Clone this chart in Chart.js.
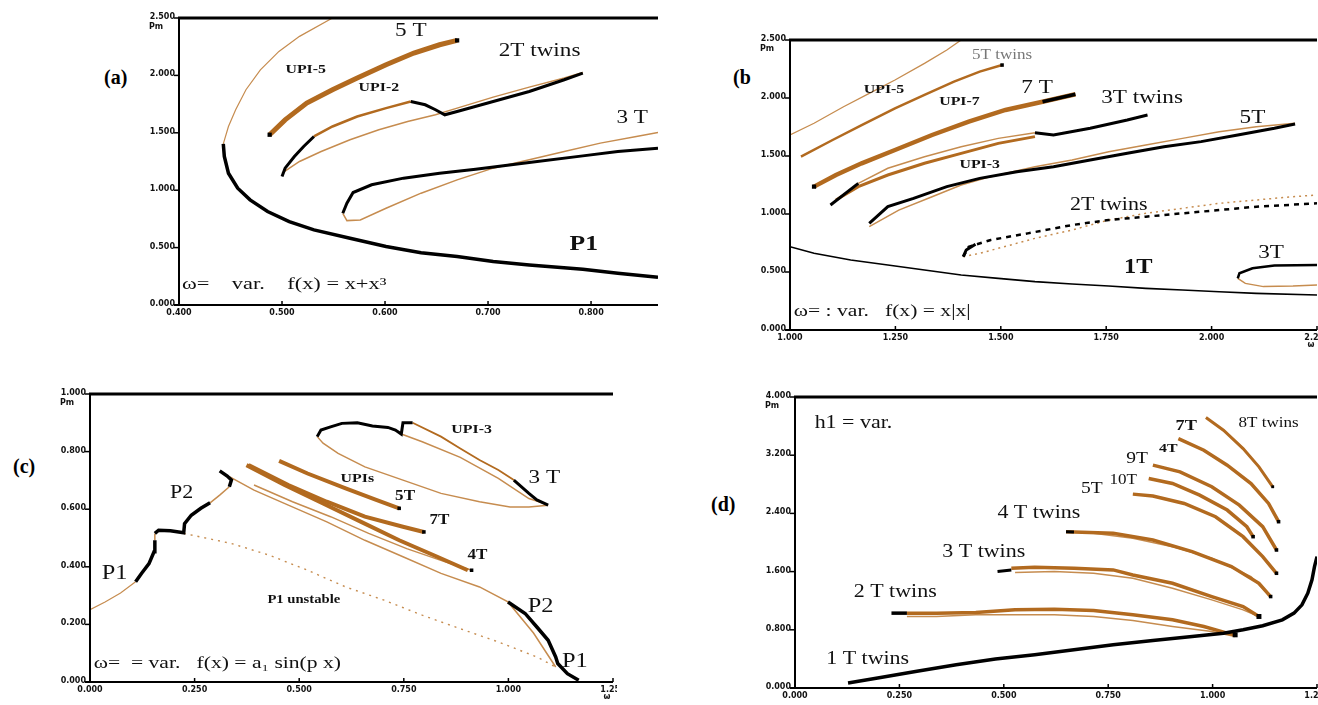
<!DOCTYPE html>
<html>
<head>
<meta charset="utf-8">
<script src="https://cdn.jsdelivr.net/npm/chart.js@4/dist/chart.umd.min.js"></script>
<style>
body { margin: 0; background: #fff; width: 1318px; height: 705px; overflow: hidden; position: relative; }
canvas { position: absolute; }
.tag { position: absolute; font: bold 20px "Liberation Serif", serif; color: #000; }
</style>
</head>
<body>
<div class="tag" style="left:104px;top:66px">(a)</div>
<div class="tag" style="left:733px;top:66px">(b</div>
<div class="tag" style="left:13px;top:455px">(c)</div>
<div class="tag" style="left:711px;top:493px">(d)</div>
<canvas id="chartA"></canvas>
<canvas id="chartB"></canvas>
<canvas id="chartC"></canvas>
<canvas id="chartD"></canvas>
<script>
// ---- (a) f(x) = x + x^3 ----
const aXTicks = [0.4, 0.5, 0.6, 0.7, 0.8];
const aYTicks = [0, 0.5, 1, 1.5, 2, 2.5];
const aP1Upper = [[0.443,1.404],[0.448,1.555],[0.455,1.701],[0.465,1.875],[0.479,2.049],[0.497,2.209],[0.517,2.340],[0.549,2.500]];
const aP1 = [[0.443,1.404],[0.444,1.294],[0.448,1.148],[0.457,1.017],[0.469,0.916],[0.486,0.814],[0.507,0.727],[0.531,0.654],[0.566,0.581],[0.601,0.509],[0.635,0.456],[0.670,0.422],[0.705,0.378],[0.740,0.349],[0.792,0.311],[0.826,0.276],[0.865,0.241]];
const a5T = [[0.488,1.483],[0.503,1.613],[0.524,1.759],[0.549,1.875],[0.573,1.977],[0.601,2.093],[0.628,2.195],[0.653,2.267],[0.670,2.305]];
const a2TArcBlack = [[0.500,1.119],[0.503,1.192],[0.512,1.294],[0.521,1.381],[0.531,1.468]];
const a2TArc = [[0.531,1.468],[0.549,1.555],[0.573,1.642],[0.601,1.715],[0.625,1.773]];
const a2TBlack = [[0.625,1.773],[0.639,1.744],[0.649,1.701],[0.658,1.657],[0.670,1.686],[0.705,1.773],[0.740,1.860],[0.774,1.962],[0.792,2.020]];
const a2TThin = [[0.500,1.148],[0.517,1.250],[0.538,1.337],[0.566,1.439],[0.594,1.526],[0.622,1.599],[0.649,1.657],[0.670,1.715],[0.705,1.811],[0.740,1.898],[0.774,1.977],[0.792,2.026]];
const a3TBlack = [[0.865,1.366],[0.826,1.337],[0.792,1.299],[0.740,1.241],[0.688,1.183],[0.653,1.148],[0.618,1.105],[0.587,1.047],[0.569,0.980],[0.563,0.887],[0.559,0.799]];
const a3TBrown = [[0.559,0.799],[0.563,0.735],[0.576,0.741],[0.601,0.843],[0.635,0.974],[0.670,1.090],[0.705,1.192],[0.740,1.265],[0.774,1.337],[0.809,1.410],[0.844,1.468],[0.865,1.503]];

// ---- (b) f(x) = x|x| ----
const bXTicks = [1.0, 1.25, 1.5, 1.75, 2.0, 2.25];
const bYTicks = [0, 0.5, 1, 1.5, 2, 2.5];
const bUpi5 = [[1.000,1.681],[1.057,1.782],[1.127,1.925],[1.188,2.040],[1.249,2.155],[1.319,2.299],[1.372,2.414],[1.406,2.500]];
const b5TTwins = [[1.026,1.494],[1.101,1.638],[1.170,1.767],[1.249,1.911],[1.319,2.026],[1.389,2.141],[1.450,2.227],[1.503,2.284]];
const b7T = [[1.057,1.236],[1.109,1.336],[1.170,1.437],[1.249,1.552],[1.337,1.681],[1.424,1.796],[1.511,1.897],[1.599,1.968],[1.677,2.032]];
const b7TBlack = [[1.599,1.968],[1.677,2.032]];
const b3TStart = [[1.096,1.078],[1.162,1.264]];
const b3TUpper = [[1.162,1.264],[1.232,1.394],[1.319,1.494],[1.406,1.580],[1.494,1.652],[1.581,1.701]];
const b3TEnd = [[1.581,1.701],[1.625,1.681],[1.712,1.739],[1.800,1.810],[1.848,1.853]];
const b3TLower = [[1.109,1.121],[1.162,1.236],[1.232,1.336],[1.319,1.437],[1.406,1.523],[1.494,1.609],[1.581,1.667]];
const bUpi3Black = [[1.188,0.920],[1.232,1.063],[1.293,1.135],[1.372,1.236],[1.450,1.307],[1.538,1.365],[1.625,1.408],[1.712,1.466],[1.800,1.523],[1.887,1.580],[1.975,1.624],[2.062,1.681],[2.149,1.739],[2.198,1.776]];
const bUpi3Brown = [[1.188,0.891],[1.258,1.034],[1.337,1.149],[1.406,1.250],[1.476,1.322],[1.581,1.408],[1.669,1.466],[1.756,1.537],[1.844,1.595],[1.931,1.652],[2.018,1.710],[2.106,1.753],[2.198,1.782]];
const b2TBlack = [[1.411,0.632],[1.424,0.718],[1.476,0.776],[1.564,0.833],[1.669,0.905],[1.756,0.948],[1.844,0.977],[1.931,1.006],[2.018,1.034],[2.106,1.063],[2.250,1.092]];
const b2TBrown = [[1.411,0.632],[1.450,0.661],[1.494,0.704],[1.581,0.790],[1.669,0.862],[1.756,0.948],[1.844,1.006],[1.931,1.049],[2.018,1.092],[2.106,1.121],[2.193,1.149],[2.250,1.164]];
const b2TTip = [[1.411,0.632],[1.418,0.690],[1.440,0.740]];
const b1T = [[1.000,0.718],[1.057,0.661],[1.144,0.603],[1.232,0.560],[1.319,0.517],[1.406,0.474],[1.494,0.445],[1.581,0.417],[1.669,0.397],[1.756,0.379],[1.844,0.359],[1.931,0.345],[2.018,0.330],[2.106,0.316],[2.250,0.302]];
const b3TLoopBlack = [[2.250,0.560],[2.149,0.555],[2.097,0.532],[2.066,0.489],[2.062,0.445]];
const b3TLoopBrown = [[2.062,0.445],[2.080,0.402],[2.123,0.374],[2.193,0.379],[2.250,0.388]];

// ---- (c) f(x) = a1 sin(p x) ----
const cXTicks = [0, 0.25, 0.5, 0.75, 1.0, 1.25];
const cYTicks = [0, 0.2, 0.4, 0.6, 0.8, 1.0];
const cRiseBrown1 = [[0.000,0.251],[0.036,0.278],[0.073,0.309],[0.109,0.348]];
const cRiseBlack1 = [[0.109,0.348],[0.123,0.377],[0.141,0.411],[0.153,0.452],[0.155,0.492]];
const cRiseBrown2 = [[0.155,0.492],[0.155,0.516]];
const cRiseBlack2 = [[0.155,0.516],[0.164,0.527],[0.192,0.525],[0.224,0.518],[0.226,0.550],[0.242,0.579],[0.265,0.603],[0.287,0.622]];
const cRiseBrown3 = [[0.287,0.622],[0.310,0.649],[0.333,0.678]];
const cRiseBlack3 = [[0.333,0.678],[0.338,0.701],[0.328,0.715],[0.310,0.733]];
const cP1Unstable = [[0.224,0.516],[0.338,0.481],[0.429,0.440],[0.520,0.388],[0.611,0.330],[0.703,0.284],[0.794,0.232],[0.885,0.185],[0.976,0.139],[1.068,0.087],[1.113,0.052]];
const cFallBrown = [[0.333,0.713],[0.392,0.666],[0.474,0.614],[0.566,0.556],[0.657,0.492],[0.748,0.435],[0.839,0.377],[0.931,0.330],[0.999,0.278],[1.060,0.170],[1.113,0.052]];
const cFallBlack = [[0.999,0.278],[1.040,0.238],[1.068,0.191],[1.095,0.145],[1.113,0.087],[1.118,0.064],[1.141,0.029],[1.168,0.006]];
const cUpi3Top = [[0.543,0.852],[0.552,0.875],[0.575,0.886],[0.602,0.898],[0.639,0.900],[0.675,0.889],[0.712,0.884],[0.730,0.875],[0.744,0.861],[0.748,0.900],[0.771,0.900]];
const cUpi3Right = [[0.771,0.900],[0.839,0.852],[0.885,0.811],[0.931,0.771],[0.976,0.736],[1.013,0.701]];
const cUpi3Tip = [[1.013,0.701],[1.049,0.655],[1.068,0.632],[1.095,0.614]];
const cUpi3Lower = [[1.095,0.614],[1.049,0.608],[1.004,0.608],[0.931,0.626],[0.839,0.655],[0.748,0.701],[0.657,0.747],[0.593,0.794],[0.557,0.829],[0.543,0.852]];
const cUpi3Inner = [[0.744,0.861],[0.794,0.834],[0.885,0.780],[0.976,0.707],[1.049,0.637],[1.086,0.620]];
const c5T = [[0.452,0.768],[0.520,0.724],[0.611,0.672],[0.684,0.632],[0.739,0.603]];
const c7T = [[0.379,0.753],[0.474,0.684],[0.566,0.626],[0.657,0.574],[0.748,0.539],[0.798,0.521]];
const c4T = [[0.374,0.753],[0.465,0.684],[0.557,0.620],[0.648,0.556],[0.739,0.492],[0.830,0.435],[0.903,0.388]];
const c4TThin = [[0.392,0.684],[0.484,0.626],[0.575,0.574],[0.666,0.516],[0.757,0.463],[0.849,0.417],[0.912,0.388]];

// ---- (d) h1 varied ----
const dXTicks = [0, 0.25, 0.5, 0.75, 1.0, 1.25];
const dYTicks = [0, 0.8, 1.6, 2.4, 3.2, 4.0];
const d1T = [[0.127,0.069],[0.198,0.137],[0.292,0.229],[0.386,0.320],[0.480,0.398],[0.574,0.457],[0.668,0.526],[0.762,0.594],[0.857,0.654],[0.951,0.709],[1.026,0.754],[1.073,0.800],[1.120,0.855],[1.167,0.937],[1.195,1.029],[1.214,1.143],[1.228,1.303],[1.238,1.486],[1.244,1.669],[1.250,1.806]];
const d2TStart = [[0.231,1.029],[0.268,1.029]];
const d2TUpper = [[0.268,1.029],[0.339,1.029],[0.433,1.038],[0.527,1.074],[0.621,1.083],[0.715,1.065],[0.809,1.006],[0.904,0.937],[0.979,0.846],[1.035,0.754],[1.054,0.731]];
const d2TLower = [[0.268,0.983],[0.339,0.983],[0.433,1.006],[0.527,1.006],[0.621,1.006],[0.715,0.983],[0.809,0.928],[0.904,0.846],[0.998,0.777],[1.054,0.709]];
const d3TStart = [[0.485,1.600],[0.518,1.623]];
const d3TUpper = [[0.518,1.646],[0.574,1.659],[0.668,1.646],[0.762,1.623],[0.809,1.554],[0.904,1.440],[0.998,1.257],[1.073,1.120],[1.111,0.983]];
const d3TLower = [[0.527,1.586],[0.621,1.600],[0.715,1.577],[0.809,1.509],[0.904,1.371],[0.998,1.211],[1.073,1.074],[1.111,0.983]];
const d4TStart = [[0.649,2.149],[0.668,2.145]];
const d4TUpper = [[0.649,2.149],[0.762,2.126],[0.857,2.034],[0.951,1.874],[1.045,1.669],[1.111,1.440],[1.139,1.257]];
const d4TLower = [[0.715,2.126],[0.809,2.057],[0.904,1.943],[0.998,1.783],[1.092,1.531],[1.139,1.257]];
const d5T = [[0.809,2.665],[0.857,2.638],[0.932,2.537],[1.007,2.354],[1.073,2.080],[1.120,1.806],[1.153,1.577]];
const d10T = [[0.847,2.880],[0.904,2.811],[0.969,2.651],[1.035,2.446],[1.082,2.217],[1.097,2.080]];
const d9T = [[0.857,3.063],[0.922,2.971],[0.998,2.766],[1.064,2.514],[1.120,2.217],[1.153,1.897]];
const d7T = [[0.918,3.429],[0.979,3.269],[1.035,3.063],[1.092,2.811],[1.134,2.537],[1.158,2.286]];
const d8T = [[0.984,3.717],[1.026,3.543],[1.073,3.291],[1.111,3.040],[1.144,2.766]];

const BLACK = '#000';
const BROWN = '#b26a1f';
const BROWN_LT = '#c68c4f';
const TEXT_STRETCH = 1.22;

function curve(pts, color, width, extra) {
  return Object.assign({
    data: pts.map(([x, y]) => ({ x, y })),
    borderColor: color, backgroundColor: color, borderWidth: width,
    showLine: true, pointRadius: 0, tension: 0, fill: false,
    order: color === BLACK ? 0 : 1
  }, extra || {});
}

// square black marker on the last point of a branch
function endDot(pts, r) {
  const [x, y] = pts[pts.length - 1];
  return { data: [{ x, y }], showLine: false, pointRadius: r || 2.5, pointStyle: 'rect',
    backgroundColor: BLACK, borderColor: BLACK, borderWidth: 0, order: 0 };
}
function startDot(pts, r) { return endDot([pts[0]], r); }

function line(ctx, x1, y1, x2, y2) {
  ctx.beginPath(); ctx.moveTo(x1, y1); ctx.lineTo(x2, y2); ctx.stroke();
}

const axisFrame = {
  id: 'axisFrame',
  afterDatasetsDraw(chart) {
    const { ctx, chartArea: a, scales: { x, y } } = chart;
    ctx.save();
    ctx.strokeStyle = '#000';
    ctx.lineWidth = 3;
    line(ctx, a.left - 1, a.top, a.right, a.top);
    ctx.lineWidth = 2;
    line(ctx, a.left, a.top, a.left, a.bottom);
    line(ctx, a.left - 5, a.bottom, a.right, a.bottom);
    ctx.fillStyle = '#111';
    ctx.font = 'bold 8px "DejaVu Sans", sans-serif';
    ctx.lineWidth = 1.5;
    x.ticks.forEach(t => {
      const px = x.getPixelForValue(t.value);
      line(ctx, px, a.bottom, px, a.bottom - 4);
      ctx.textAlign = 'center';
      ctx.textBaseline = 'top';
      ctx.fillText(t.value.toFixed(3), px, a.bottom + 4);
    });
    y.ticks.forEach(t => {
      const py = y.getPixelForValue(t.value);
      line(ctx, a.left - 5, py, a.left, py);
      ctx.textAlign = 'right';
      ctx.textBaseline = 'middle';
      ctx.fillText(t.value.toFixed(3), a.left - 4, py - 1);
    });
    ctx.textAlign = 'left';
    ctx.fillText('Pm', a.left - 30, a.top + 9);
    if (chart.options.plugins.axisFrame.omega) {
      ctx.textAlign = 'center';
      ctx.fillText('ω', x.getPixelForValue(x.max) - 6, a.bottom + 15);
    }
    ctx.restore();
  }
};

function notes(items) {
  return {
    id: 'notes',
    afterDraw(chart) {
      const { ctx, scales: { x, y } } = chart;
      items.forEach(n => {
        ctx.save();
        ctx.font = n.font + ' "Liberation Serif", serif';
        ctx.fillStyle = n.color || '#111';
        ctx.textAlign = n.align || 'center';
        ctx.textBaseline = 'middle';
        ctx.translate(x.getPixelForValue(n.x), y.getPixelForValue(n.y));
        ctx.scale(n.stretch || TEXT_STRETCH, 1);
        ctx.fillText(n.text, 0, 0);
        ctx.restore();
      });
    }
  };
}

const PAD_L = 44, PAD_T = 9, PAD_R = 4, PAD_B = 22;

function makeChart(id, frame, xTicks, yTicks, datasets, labels, omega) {
  const cv = document.getElementById(id);
  cv.width = frame.right - frame.left + PAD_L + PAD_R;
  cv.height = frame.bottom - frame.top + PAD_T + PAD_B;
  cv.style.left = (frame.left - PAD_L) + 'px';
  cv.style.top = (frame.top - PAD_T) + 'px';
  const axis = (ticks, min, max, fit) => ({
    type: 'linear', min, max,
    afterBuildTicks: s => { s.ticks = ticks.map(v => ({ value: v })); },
    afterFit: fit,
    ticks: { display: false },
    grid: { display: false },
    border: { display: false }
  });
  return new Chart(cv, {
    type: 'scatter',
    data: { datasets },
    options: {
      responsive: false, animation: false, devicePixelRatio: 1,
      layout: { padding: { left: 0, top: PAD_T, right: PAD_R, bottom: 0 } },
      plugins: { legend: { display: false }, tooltip: { enabled: false }, axisFrame: { omega: !!omega } },
      scales: {
        x: axis(xTicks, xTicks[0], frame.xMax, s => { s.height = PAD_B; }),
        y: axis(yTicks, yTicks[0], yTicks[yTicks.length - 1], s => { s.width = PAD_L; })
      }
    },
    plugins: [axisFrame, notes(labels)]
  });
}

makeChart('chartA', { left: 179, top: 18, right: 658, bottom: 305, xMax: 0.865 }, aXTicks, aYTicks, [
  curve(aP1Upper, BROWN_LT, 1.2),
  curve(aP1, BLACK, 3.5),
  curve(a5T, BROWN, 5),
  startDot(a5T, 3), endDot(a5T, 3),
  curve(a2TArcBlack, BLACK, 3),
  curve(a2TArc, BROWN, 2.5),
  curve(a2TBlack, BLACK, 3),
  curve(a2TThin, BROWN_LT, 1.5),
  curve(a3TBlack, BLACK, 3),
  curve(a3TBrown, BROWN_LT, 1.5)
], [
  { text: '5 T', x: 0.625, y: 2.385, font: '19px' },
  { text: '2T twins', x: 0.750, y: 2.209, font: '19px' },
  { text: 'UPI-5', x: 0.523, y: 2.049, font: 'bold 13px' },
  { text: 'UPI-2', x: 0.594, y: 1.890, font: 'bold 13px' },
  { text: '3 T', x: 0.840, y: 1.628, font: '19px' },
  { text: 'P1', x: 0.793, y: 0.523, font: 'bold 21px' },
  { text: 'ω=    var.    f(x) = x+x³', x: 0.403, y: 0.174, font: '16px', align: 'left', stretch: 1.4 }
]);

makeChart('chartB', { left: 790, top: 40, right: 1317, bottom: 330, xMax: 2.25 }, bXTicks, bYTicks, [
  curve(bUpi5, BROWN_LT, 1.3),
  curve(b5TTwins, BROWN, 2.5),
  endDot(b5TTwins, 2.5),
  curve(b7T, BROWN, 4.5),
  curve(b7TBlack, BLACK, 3.5),
  startDot(b7T, 3),
  curve(b3TStart, BLACK, 3),
  curve(b3TUpper, BROWN_LT, 1.5),
  curve(b3TEnd, BLACK, 3),
  curve(b3TLower, BROWN, 3),
  curve(bUpi3Black, BLACK, 3),
  curve(bUpi3Brown, BROWN_LT, 1.5),
  curve(b2TBlack, BLACK, 2.5, { borderDash: [5, 5] }),
  curve(b2TBrown, BROWN_LT, 1.5, { borderDash: [2, 4] }),
  curve(b2TTip, BLACK, 3),
  curve(b1T, BLACK, 1.6),
  curve(b3TLoopBlack, BLACK, 2.5),
  curve(b3TLoopBrown, BROWN_LT, 1.5)
], [
  { text: '5T twins', x: 1.503, y: 2.371, font: '14px', color: '#777' },
  { text: 'UPI-5', x: 1.223, y: 2.069, font: 'bold 13px' },
  { text: '7 T', x: 1.586, y: 2.083, font: '19px' },
  { text: 'UPI-7', x: 1.402, y: 1.968, font: 'bold 13px' },
  { text: '3T twins', x: 1.835, y: 1.997, font: '19px' },
  { text: '5T', x: 2.097, y: 1.825, font: '19px' },
  { text: 'UPI-3', x: 1.450, y: 1.422, font: 'bold 13px' },
  { text: '2T twins', x: 1.756, y: 1.078, font: '18px' },
  { text: '3T', x: 2.141, y: 0.661, font: '19px' },
  { text: '1T', x: 1.826, y: 0.532, font: 'bold 20px' },
  { text: 'ω= : var.   f(x) = x|x|', x: 1.009, y: 0.158, font: '16px', align: 'left', stretch: 1.35 }
], true);

makeChart('chartC', { left: 90, top: 394, right: 613, bottom: 682, xMax: 1.25 }, cXTicks, cYTicks, [
  curve(cRiseBrown1, BROWN_LT, 1.2),
  curve(cRiseBlack1, BLACK, 3.5),
  curve(cRiseBrown2, BROWN_LT, 1.5),
  curve(cRiseBlack2, BLACK, 3.5),
  curve(cRiseBrown3, BROWN_LT, 1.5),
  curve(cRiseBlack3, BLACK, 3.5),
  curve(cP1Unstable, BROWN_LT, 1.4, { borderDash: [2, 5] }),
  curve(cFallBrown, BROWN_LT, 1.5),
  curve(cFallBlack, BLACK, 3.5),
  curve(cUpi3Top, BLACK, 3),
  curve(cUpi3Right, BROWN, 1.8),
  curve(cUpi3Tip, BLACK, 3),
  curve(cUpi3Lower, BROWN_LT, 1.5),
  curve(cUpi3Inner, BROWN_LT, 1.5),
  curve(c5T, BROWN, 4), endDot(c5T, 2.5),
  curve(c7T, BROWN, 4), endDot(c7T, 2.5),
  curve(c4T, BROWN, 4),
  curve(c4TThin, BROWN_LT, 1.5), endDot(c4TThin, 2.5)
], [
  { text: 'P1', x: 0.059, y: 0.377, font: '20px' },
  { text: 'P2', x: 0.219, y: 0.655, font: '18px' },
  { text: 'UPI-3', x: 0.912, y: 0.875, font: 'bold 13px' },
  { text: '3 T', x: 1.086, y: 0.707, font: '19px' },
  { text: 'UPIs', x: 0.639, y: 0.707, font: 'bold 13px' },
  { text: '5T', x: 0.753, y: 0.643, font: 'bold 14px' },
  { text: '7T', x: 0.835, y: 0.562, font: 'bold 14px' },
  { text: '4T', x: 0.926, y: 0.440, font: 'bold 14px' },
  { text: 'P1 unstable', x: 0.511, y: 0.284, font: 'bold 12px' },
  { text: 'P2', x: 1.077, y: 0.261, font: '20px' },
  { text: 'P1', x: 1.159, y: 0.070, font: '20px' },
  { text: 'ω=  = var.   f(x) = a₁ sin(p x)', x: 0.009, y: 0.064, font: '16px', align: 'left', stretch: 1.35 }
], true);

makeChart('chartD', { left: 795, top: 397, right: 1317, bottom: 688, xMax: 1.25 }, dXTicks, dYTicks, [
  curve(d1T, BLACK, 3.5),
  curve(d2TStart, BLACK, 3.5),
  curve(d2TUpper, BROWN, 3.5),
  curve(d2TLower, BROWN_LT, 1.5),
  endDot(d2TUpper, 3.5),
  curve(d3TStart, BLACK, 3),
  curve(d3TUpper, BROWN, 3.5),
  curve(d3TLower, BROWN_LT, 1.5),
  endDot(d3TUpper, 3.5),
  curve(d4TStart, BLACK, 3),
  curve(d4TUpper, BROWN, 3.5),
  curve(d4TLower, BROWN_LT, 1.5),
  endDot(d4TUpper, 2.5),
  curve(d5T, BROWN, 3.5), endDot(d5T, 2.5),
  curve(d10T, BROWN, 3.5), endDot(d10T, 2.5),
  curve(d9T, BROWN, 3.5), endDot(d9T, 2.5),
  curve(d7T, BROWN, 3.5), endDot(d7T, 2.5),
  curve(d8T, BROWN, 3), endDot(d8T, 2)
], [
  { text: 'h1 = var.', x: 0.047, y: 3.634, font: '18px', align: 'left' },
  { text: '7T', x: 0.937, y: 3.598, font: 'bold 15px' },
  { text: '8T twins', x: 1.134, y: 3.634, font: '14px' },
  { text: '4T', x: 0.894, y: 3.291, font: 'bold 13px' },
  { text: '9T', x: 0.819, y: 3.154, font: '16px' },
  { text: '10T', x: 0.786, y: 2.857, font: '14px' },
  { text: '5T', x: 0.711, y: 2.743, font: '16px' },
  { text: '4 T twins', x: 0.584, y: 2.400, font: '18px' },
  { text: '3 T twins', x: 0.452, y: 1.861, font: '18px' },
  { text: '2 T twins', x: 0.240, y: 1.312, font: '18px' },
  { text: '1 T twins', x: 0.174, y: 0.389, font: '18px' }
]);
</script>
</body>
</html>
